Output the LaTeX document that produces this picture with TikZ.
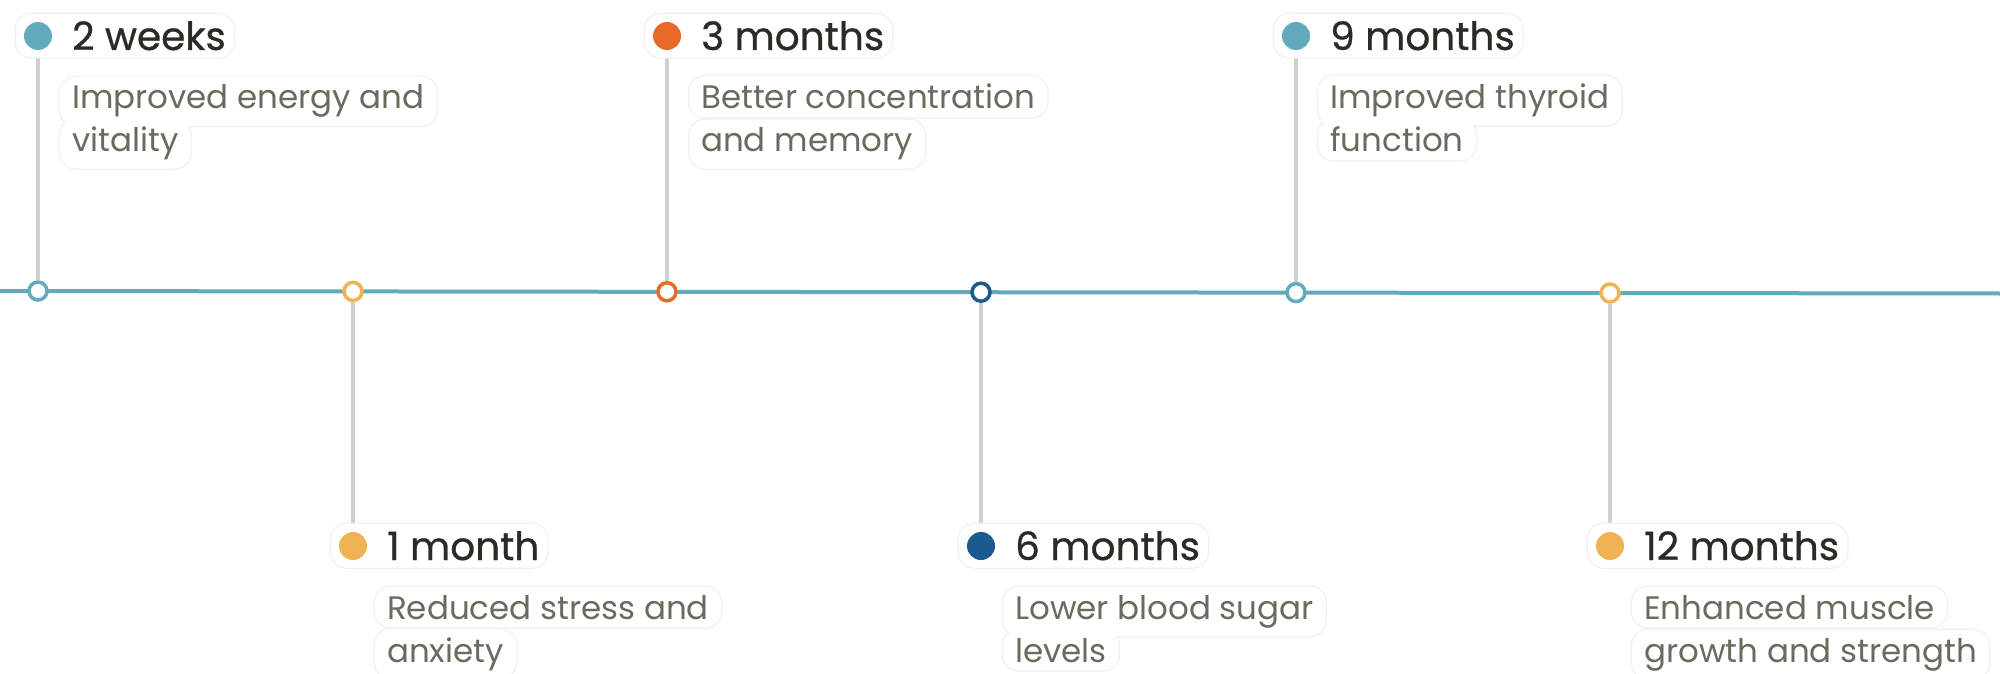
\documentclass[tikz,border=0pt]{standalone}
\usepackage{fontspec}
\setmainfont{Poppins}
\newfontfamily\tltitlefont{Poppins}[FakeBold=0.7]
\usetikzlibrary{fit}

\definecolor{tlteal}{HTML}{63AABD}
\definecolor{tlamber}{HTML}{F0B354}
\definecolor{tlorange}{HTML}{E8692A}
\definecolor{tlnavy}{HTML}{1A5A8E}
\definecolor{tlgrey}{HTML}{CFCFCB}
\definecolor{tltitle}{HTML}{2B2B26}
\definecolor{tldesc}{HTML}{6A6A5E}
\definecolor{tledge}{HTML}{F0F0F0}

\pgfdeclarelayer{back}
\pgfdeclarelayer{bubbleedge}
\pgfdeclarelayer{bubblefill}
\pgfsetlayers{back,bubbleedge,bubblefill,main}

\tikzset{
  mainline/.style={draw=tlteal, line width=4pt},
  conn/.style={draw=tlgrey, line width=3.5pt},
  ring/.style={circle, draw=#1, fill=white, line width=3.5pt, minimum size=18pt, inner sep=0pt},
  dotmark/.style={circle, fill=#1, minimum size=28pt, inner sep=0pt},
  ttl/.style={font=\tltitlefont\fontsize{39}{42}\selectfont, text=tltitle, anchor=base west, inner sep=0pt},
  dsc/.style={font=\fontsize{32.5}{36}\selectfont, text=tldesc, anchor=base west, inner sep=0pt},
  bubbleline/.style={draw=tledge, line width=2.4pt, fill=white, rounded corners=16pt},
  bubblebody/.style={fill=white, rounded corners=16pt},
}

% one milestone: id, x, dot y, ring y, colour, title, first description line
% (the second line is taken from \tlsecond)
\newcommand\tlevent[7]{%
  \node[ring=#5] (c#1) at (#2,#4) {};
  \node[dotmark=#5] (d#1) at (#2,#3) {};
  \node[ttl] (t#1) at (#2+34,#3+14) {#6};
  \node[dsc] (a#1) at (#2+34,#3+73) {#7};
  \node[dsc] (b#1) at (#2+34,#3+116) {\tlsecond};
  \begin{pgfonlayer}{bubbleedge}
    \node[bubbleline, fit=(d#1)(t#1), inner xsep=8pt, inner ysep=7pt] {};
    \node[bubbleline, fit=(a#1), inner xsep=12pt, inner ysep=8pt] {};
    \node[bubbleline, fit=(b#1), inner xsep=12pt, inner ysep=8pt] {};
  \end{pgfonlayer}
  \begin{pgfonlayer}{bubblefill}
    \node[bubblebody, fit=(d#1)(t#1), inner xsep=8pt, inner ysep=7pt] (tb#1) {};
    \node[bubblebody, fit=(a#1), inner xsep=12pt, inner ysep=8pt] (ab#1) {};
    \node[bubblebody, fit=(b#1), inner xsep=12pt, inner ysep=8pt] (bb#1) {};
  \end{pgfonlayer}
  \begin{pgfonlayer}{back}
    \draw[conn] (c#1) -- (d#1);
  \end{pgfonlayer}
}
\newcommand\tlsecond{}

\begin{document}
\begin{tikzpicture}[x=1pt,y=-1pt]
  \useasboundingbox (0,0) rectangle (2000,674);
  \begin{pgfonlayer}{back}
    \fill[white] (0,0) rectangle (2000,674);
    \coordinate (lineL) at (0,291);
    \coordinate (lineR) at (2000,293.5);
    \draw[mainline] (lineL) -- (lineR);
  \end{pgfonlayer}

  \renewcommand\tlsecond{vitality}
  \tlevent{0}{38}{36}{291.0}{tlteal}{2 weeks}{Improved energy and}
  \renewcommand\tlsecond{anxiety}
  \tlevent{1}{353}{546}{291.4}{tlamber}{1 month}{Reduced stress and}
  \renewcommand\tlsecond{and memory}
  \tlevent{2}{667}{36}{291.8}{tlorange}{3 months}{Better concentration}
  \renewcommand\tlsecond{levels}
  \tlevent{3}{981}{546}{292.2}{tlnavy}{6 months}{Lower blood sugar}
  \renewcommand\tlsecond{function}
  \tlevent{4}{1296}{36}{292.6}{tlteal}{9 months}{Improved thyroid}
  \renewcommand\tlsecond{growth and strength}
  \tlevent{5}{1610}{546}{293.0}{tlamber}{12 months}{Enhanced muscle}
\end{tikzpicture}
\end{document}
